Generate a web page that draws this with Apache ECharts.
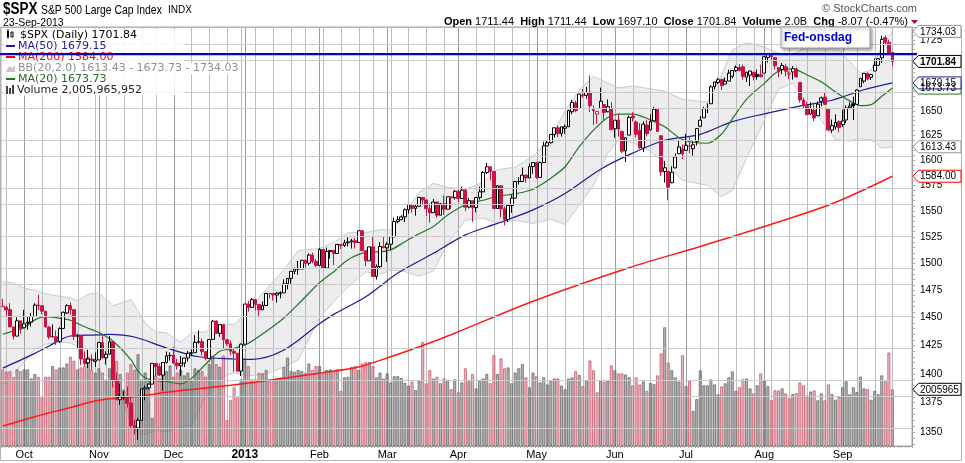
<!DOCTYPE html>
<html><head><meta charset="utf-8">
<script src="https://cdn.jsdelivr.net/npm/echarts@6/dist/echarts.min.js"></script>
<style>html,body{margin:0;padding:0;background:#fff;}#c{width:965px;height:463px;}</style>
</head><body><div id="c"></div>
<script>
// ---------- DATA ----------
const HOLIDAYS = ['2012-10-29','2012-10-30','2012-11-22','2012-12-25','2013-01-01','2013-01-21','2013-02-18','2013-03-29','2013-05-27','2013-07-04','2013-09-02'];
const FIRST_DAY = '2012-09-21', LAST_DAY = '2013-09-23';
const PREV_CLOSE_0 = 1460.26;

const OPEN = [
1460.34,1459.50,1457.38,1441.60,1433.36,1447.13,
1440.90,1444.99,1446.05,1451.08,1461.40,1460.93,1455.90,1441.48,1432.82,1432.84,1428.75,1440.31,1454.22,1460.94,1457.34,1433.21,1433.74,1413.20,1409.74,1412.97,1410.99,
1412.20,1427.59,1414.02,1417.26,1428.27,1394.53,1377.55,1379.86,1380.03,1374.64,1355.41,1353.36,1359.88,1386.82,1387.79,1391.03,1409.15,1406.29,1398.77,1409.96,1415.95,
1416.34,1409.46,1407.05,1409.43,1413.95,1418.07,1418.55,1427.84,1428.48,1419.45,1413.54,1430.47,1446.79,1435.81,1443.67,1430.15,1426.66,1419.83,1418.10,1402.43,
1426.19,1462.42,1459.37,1466.47,1461.89,1457.15,1461.02,1472.12,1472.05,1470.67,1472.33,1472.63,1480.95,1485.98,1492.56,1494.81,1494.82,1502.96,1500.18,1507.84,1501.96,
1498.11,1513.17,1495.71,1511.29,1512.12,1509.39,1517.93,1517.01,1519.43,1520.33,1521.38,1519.79,1530.94,1511.95,1502.42,1515.60,1487.85,1496.94,1515.99,
1514.68,1518.20,1525.20,1539.79,1541.46,1544.26,1551.15,1556.22,1552.48,1554.52,1563.21,1560.70,1552.10,1548.34,1558.71,1545.90,1556.89,1551.69,1563.75,1562.86,
1569.18,1562.17,1570.25,1553.69,1559.98,1553.26,1563.11,1568.61,1587.73,1593.30,1588.84,1552.36,1574.57,1552.03,1541.61,1555.25,1562.50,1578.78,1578.78,1585.16,1582.34,1593.58,
1597.55,1582.77,1597.60,1614.40,1617.55,1625.95,1632.69,1626.69,1632.10,1633.75,1649.13,1658.07,1652.45,1665.71,1666.20,1669.39,1651.62,1646.67,1652.63,1656.57,1649.14,1652.13,
1631.71,1640.73,1629.05,1609.29,1625.27,1644.67,1638.64,1629.94,1612.15,1635.52,1630.64,1639.77,1651.83,1624.62,1588.62,1588.77,1577.52,1592.27,1606.44,1611.12,
1609.78,1614.29,1611.48,1618.65,1634.20,1642.89,1652.50,1657.41,1675.26,1679.59,1682.70,1677.91,1681.05,1686.15,1692.09,1695.53,1696.06,1685.21,1687.31,1690.32,1687.92,1687.76,
1689.42,1706.10,1708.01,1705.79,1695.30,1693.35,1696.10,1688.37,1690.65,1693.88,1679.61,1661.22,1655.25,1646.81,1650.66,1645.03,1659.92,1664.29,1652.54,1630.25,1633.50,1638.89,
1635.95,1640.72,1653.28,1657.44,1656.85,1675.11,1681.04,1689.21,1685.04,1691.70,1697.73,1705.74,1727.34,1722.44,1711.44];

const HIGH = [
1467.07,1460.72,1463.24,1441.60,1450.20,1447.13,
1457.14,1451.52,1454.30,1463.14,1470.96,1460.93,1455.90,1442.52,1443.90,1438.43,1441.31,1455.51,1462.20,1464.02,1457.34,1435.46,1433.74,1420.04,1421.12,1417.09,1418.76,
1428.35,1434.27,1419.90,1433.38,1428.27,1401.23,1391.39,1384.87,1388.81,1380.13,1360.62,1362.03,1386.89,1389.77,1391.25,1409.16,1409.15,1409.01,1410.31,1419.70,1418.86,
1423.73,1413.14,1415.56,1413.95,1420.34,1421.64,1434.27,1438.59,1431.36,1419.45,1430.67,1448.00,1447.75,1443.70,1443.67,1430.15,1429.42,1422.80,1418.10,1426.74,
1462.43,1465.47,1467.94,1466.47,1461.89,1464.73,1472.30,1472.75,1472.05,1473.31,1473.96,1485.16,1485.98,1492.56,1496.13,1502.27,1503.26,1503.23,1509.35,1509.94,1504.19,
1514.41,1513.17,1514.96,1512.53,1512.90,1518.31,1518.31,1522.29,1524.69,1523.14,1524.24,1530.94,1530.94,1511.95,1515.64,1525.84,1498.99,1520.08,1525.34,
1519.99,1525.27,1543.47,1545.25,1545.78,1552.48,1556.27,1556.77,1556.39,1563.32,1563.62,1560.70,1557.25,1561.56,1558.71,1557.74,1564.91,1563.95,1564.07,1570.28,
1570.57,1573.66,1571.47,1562.60,1559.98,1563.07,1573.89,1589.07,1597.35,1593.30,1588.84,1575.35,1574.57,1554.38,1555.89,1565.55,1579.58,1583.00,1592.64,1585.78,1596.65,1597.57,
1597.55,1598.60,1618.46,1619.77,1626.03,1632.78,1635.01,1633.70,1636.00,1651.10,1661.49,1660.51,1667.47,1672.84,1674.93,1687.18,1655.50,1649.78,1674.21,1656.57,1661.91,1658.99,
1640.42,1646.53,1629.31,1622.56,1645.22,1648.69,1640.13,1637.71,1639.25,1640.80,1646.50,1654.19,1652.45,1624.62,1599.19,1588.77,1593.79,1606.83,1620.07,1615.94,
1626.61,1624.26,1618.97,1632.07,1644.68,1654.18,1657.92,1676.63,1680.19,1684.51,1683.73,1684.75,1693.12,1692.09,1697.61,1698.78,1698.38,1690.94,1691.85,1690.92,1693.19,1698.43,
1707.85,1709.67,1709.24,1705.79,1695.30,1700.18,1699.42,1691.49,1696.81,1695.52,1679.61,1663.60,1659.18,1658.92,1656.99,1659.55,1664.85,1669.51,1652.54,1641.18,1646.41,1640.08,
1651.35,1655.72,1659.17,1664.83,1672.40,1684.09,1689.13,1689.97,1688.73,1704.95,1705.52,1729.44,1729.86,1725.23,1711.44];

const LOW = [
1459.51,1452.06,1441.59,1430.53,1433.32,1435.60,
1440.90,1439.01,1441.99,1451.08,1456.89,1453.10,1441.18,1430.64,1432.82,1425.53,1427.24,1440.31,1453.35,1452.63,1429.85,1422.06,1407.56,1407.10,1405.14,1403.28,1405.95,
1412.20,1412.91,1408.13,1417.26,1388.14,1377.51,1373.03,1377.19,1370.78,1352.50,1348.05,1343.35,1359.88,1377.04,1386.39,1391.03,1397.68,1398.03,1385.43,1409.04,1411.63,
1408.46,1403.65,1398.23,1405.93,1410.90,1415.64,1418.55,1426.76,1416.00,1411.88,1413.54,1430.47,1435.80,1432.82,1422.58,1424.66,1416.43,1401.80,1401.58,1398.11,
1426.19,1455.53,1458.99,1456.62,1451.64,1457.15,1461.02,1467.58,1465.69,1463.76,1467.60,1472.63,1475.81,1481.16,1489.90,1489.46,1494.82,1496.33,1498.09,1500.11,1496.76,
1498.11,1495.02,1495.71,1504.71,1498.49,1509.39,1513.61,1515.61,1515.93,1514.02,1514.14,1519.79,1511.41,1497.29,1502.42,1487.85,1485.01,1494.88,1514.46,
1501.48,1512.29,1525.20,1538.11,1541.46,1539.29,1547.36,1548.24,1545.55,1554.52,1555.74,1545.13,1538.57,1548.34,1543.55,1545.90,1546.22,1551.69,1551.90,1561.08,
1558.47,1562.17,1549.80,1552.52,1539.50,1548.63,1560.92,1568.61,1586.17,1579.97,1552.28,1552.36,1543.69,1536.03,1539.40,1548.19,1562.50,1575.80,1578.78,1577.56,1582.34,1586.50,
1581.28,1582.77,1597.60,1614.21,1616.64,1622.70,1623.09,1623.71,1626.74,1633.75,1646.68,1648.60,1652.45,1663.52,1662.67,1648.86,1635.53,1636.88,1652.63,1640.05,1648.61,1630.74,
1622.72,1623.62,1607.09,1598.23,1625.27,1639.26,1622.92,1610.92,1608.07,1623.96,1630.34,1639.77,1628.91,1584.32,1577.70,1560.33,1577.09,1592.27,1606.44,1601.06,
1609.78,1606.77,1604.57,1614.71,1634.20,1642.89,1647.66,1657.41,1672.33,1677.89,1671.84,1677.91,1681.05,1684.08,1690.67,1691.13,1682.57,1680.07,1676.03,1681.86,1682.42,1684.94,
1689.42,1700.68,1703.55,1693.29,1684.91,1688.38,1686.02,1683.35,1682.62,1684.83,1658.59,1652.61,1645.84,1646.08,1639.43,1645.03,1654.81,1656.02,1629.05,1627.47,1630.88,1628.05,
1633.41,1637.41,1653.07,1640.62,1656.85,1675.11,1678.70,1681.96,1682.22,1691.70,1697.73,1700.35,1720.20,1708.89,1697.10];

const CLOSE = [
1460.15,1456.89,1441.59,1433.32,1447.15,1440.67,
1444.49,1445.75,1450.99,1461.40,1460.93,1455.88,1441.48,1432.56,1432.84,1428.59,1440.13,1454.92,1460.91,1457.34,1433.19,1433.82,1413.11,1408.75,1412.97,1411.94,1412.16,
1427.59,1414.20,1417.26,1428.39,1394.53,1377.51,1379.85,1380.03,1374.53,1355.49,1353.33,1359.88,1386.89,1387.81,1391.03,1409.15,1406.29,1398.94,1409.93,1415.95,1416.18,
1409.46,1407.05,1409.28,1413.94,1418.07,1418.55,1427.84,1428.48,1419.45,1413.58,1430.36,1446.79,1435.81,1443.69,1430.15,1426.66,1419.83,1418.10,1402.43,1426.19,
1462.42,1459.37,1466.47,1461.89,1457.15,1461.02,1472.12,1472.05,1470.68,1472.34,1472.63,1480.94,1485.98,1492.56,1494.81,1494.82,1502.96,1500.18,1507.84,1501.96,1498.11,
1513.17,1495.71,1511.29,1512.12,1509.39,1517.93,1517.01,1519.43,1520.33,1521.38,1519.79,1530.94,1511.95,1502.42,1515.60,1487.85,1496.94,1515.99,1514.68,
1518.20,1525.20,1539.79,1541.46,1544.26,1551.18,1556.22,1552.48,1554.52,1563.23,1560.70,1552.10,1548.34,1558.71,1545.80,1556.89,1551.69,1563.77,1562.85,1569.19,
1562.17,1570.25,1553.69,1559.98,1553.28,1563.07,1568.61,1587.73,1593.37,1588.85,1552.36,1574.57,1552.01,1541.61,1555.25,1562.50,1578.78,1578.79,1585.16,1582.24,1593.61,1597.57,
1582.70,1597.59,1614.42,1617.50,1625.96,1632.69,1626.67,1633.70,1633.77,1650.34,1658.78,1650.47,1667.47,1666.29,1669.16,1655.35,1650.51,1649.60,1660.06,1648.36,1654.41,1630.74,
1640.42,1631.38,1608.90,1622.56,1643.38,1642.81,1626.13,1612.52,1636.36,1626.73,1639.04,1651.81,1628.93,1588.19,1592.43,1573.09,1588.03,1603.26,1613.20,1606.28,
1614.96,1614.08,1615.41,1631.89,1640.46,1652.32,1652.62,1675.02,1680.19,1682.50,1676.26,1680.91,1689.37,1692.09,1695.53,1692.39,1685.94,1690.25,1691.65,1685.33,1685.96,1685.73,
1706.87,1709.67,1707.14,1697.37,1690.91,1697.48,1691.42,1689.47,1694.16,1685.39,1661.32,1655.83,1646.06,1652.35,1642.80,1656.96,1663.50,1656.78,1630.48,1634.96,1638.17,1632.97,
1639.77,1653.08,1655.08,1655.17,1671.71,1683.99,1689.13,1683.42,1687.99,1697.60,1704.76,1725.52,1722.34,1709.91,1701.84];

// volume, billions of shares
const VOLUME = [
2.71,2.63,2.65,2.45,2.71,2.65,
2.71,2.71,2.39,2.55,2.45,1.72,2.45,2.45,2.83,2.71,2.78,2.78,2.92,3.16,3.02,2.71,2.78,2.83,3.16,2.71,2.60,
2.75,2.60,2.35,2.75,3.30,3.00,2.55,2.00,2.60,2.90,2.70,3.25,2.35,2.60,2.30,1.00,2.50,2.40,2.60,2.65,2.85,
2.45,2.60,2.70,2.50,2.60,2.30,2.75,2.70,2.65,2.45,2.90,3.20,2.90,2.80,3.20,0.92,1.63,2.08,1.72,2.36,
3.10,2.83,2.36,2.36,2.59,2.57,2.69,2.36,2.36,2.41,2.43,2.80,3.13,2.66,2.63,2.69,2.65,2.59,2.92,2.69,2.83,
2.83,2.59,2.69,2.71,2.66,2.71,1.95,2.43,2.45,2.80,2.83,2.69,2.92,2.97,2.97,2.83,2.43,2.60,2.39,
2.57,2.25,2.47,2.47,2.41,2.24,2.14,2.28,1.98,2.30,3.68,2.22,2.69,2.39,2.45,2.22,2.39,2.34,2.01,2.36,
1.90,2.25,2.75,2.34,2.55,2.04,2.30,2.39,2.55,2.22,3.22,2.55,3.10,2.75,2.78,2.22,2.60,2.75,2.90,2.43,2.08,2.60,
2.47,2.25,2.43,2.18,2.32,2.39,2.39,2.14,2.01,2.39,2.43,2.65,2.51,2.12,2.32,3.03,2.68,1.90,2.32,2.28,2.32,2.85,
2.68,2.57,2.57,2.53,2.43,2.15,2.43,2.18,2.29,1.95,2.23,2.19,2.50,3.28,4.20,2.95,2.68,2.43,2.28,3.21,
2.12,2.32,1.24,1.66,2.68,2.15,2.15,2.36,2.18,1.83,2.11,2.22,2.43,2.64,1.95,2.08,2.36,2.39,2.04,1.86,2.15,2.57,
2.32,2.12,1.62,1.97,1.97,2.04,1.86,1.69,1.84,1.87,2.25,2.15,1.79,1.93,1.97,1.62,1.86,1.62,2.18,1.84,1.64,1.75,
2.08,2.29,1.83,2.08,1.91,2.46,2.04,2.01,1.64,1.95,1.83,2.50,2.29,3.31,2.006];

// overlay lines, read at sample days (index into trading days)
const MA200_IDX = [0,9,18,27,37,46,55,64,72,81,90,100,109,118,127,149,176,196,214,233,250];
const MA200_VAL = [1355,1363,1370,1377,1380,1384,1387,1390,1393,1397,1401,1406,1415,1425,1436,1465,1496,1516,1535,1557,1584.00];

const MA50_IDX = [0,9,13,19,27,30,37,46,55,65,70,79,89,93,102,111,121,130,139,149,158,168,177,186,196,205,214,224,233,242,250];
const MA50_VAL = [1405,1418,1424.6,1433.5,1434.4,1435,1432.6,1422.8,1415,1413,1412.7,1421,1444.5,1453,1469,1491,1509.5,1527,1538,1551,1567,1591,1607,1620,1626,1639,1647,1655,1661,1672,1679.15];

const BB_IDX = [0,3,6,9,12,15,19,21,24,27,31,36,38,40,43,46,50,53,57,61,65,69,74,79,83,89,93,97,102,106,109,113,117,121,125,130,135,139,144,149,154,158,162,166,170,173,177,182,186,191,198,202,205,209,214,218,222,226,230,234,238,241,244,247,250];
const MA20_VAL = [1435,1438,1441,1448,1451,1450,1447.7,1444.7,1440.5,1436.6,1428.8,1412.4,1402.3,1396.5,1394,1393.4,1391.2,1396,1408.4,1419.9,1422.5,1426.9,1437.6,1449.7,1462.3,1482,1492.2,1503.5,1510.4,1511,1512.7,1520.5,1528,1535,1546,1556,1560.4,1564.3,1566.7,1571.2,1582.1,1593.4,1613.6,1630.3,1643.2,1646.8,1646.8,1640.8,1633.7,1620.8,1617,1626.4,1641.8,1662,1678.7,1691.6,1694,1687.5,1680.3,1669.7,1660.4,1655.5,1656.5,1665.2,1673.73];
const BB_UP = [1483,1482,1477,1475,1472,1470,1468,1465.3,1471.5,1472.6,1460.8,1466.4,1456.3,1445,1437,1436.4,1428,1436,1437.4,1444,1443.9,1456,1476,1494,1512,1514,1519.8,1529,1529,1532,1531.7,1548.5,1568,1577,1573,1571,1578,1590.5,1593,1604,1622,1650,1671.6,1686,1679,1674,1675.8,1673,1670.7,1662,1659,1688,1714,1722,1717,1710.8,1709,1718,1720,1718.7,1701.4,1689.5,1692.5,1718,1734.03];
const BB_LO = [1390,1400,1410,1422,1426,1428,1427.3,1424.1,1409.5,1400.6,1396.8,1358.4,1348.3,1348,1351,1350.4,1354,1356,1379.4,1396,1401,1398,1400,1406,1412,1450,1464.6,1478,1492,1490,1493.7,1492.5,1488,1493,1519,1541,1543,1538,1541,1538,1542,1537,1555.6,1575,1607,1620,1617.8,1609,1596.7,1580,1575,1564,1570,1602,1640.5,1672.4,1679,1657,1640,1620.7,1619.4,1621.5,1620.5,1612,1613.43];

const PRICE_LABELS = [1350,1375,1400,1425,1450,1475,1500,1525,1550,1575,1600,1625,1650,1675,1700,1725];
const ANNOT_LEVEL = 1709.7;   // drawn horizontal line
const MONTHS = ['Jan','Feb','Mar','Apr','May','Jun','Jul','Aug','Sep','Oct','Nov','Dec'];

// ---------- build ----------
function tradingDays(){
  const out=[]; let t=Date.parse(FIRST_DAY+'T00:00:00Z'); const end=Date.parse(LAST_DAY+'T00:00:00Z');
  while(t<=end){ const d=new Date(t); const wd=d.getUTCDay(); const s=d.toISOString().slice(0,10);
    if(wd!==0&&wd!==6&&HOLIDAYS.indexOf(s)<0) out.push(s); t+=86400000; }
  return out;
}
const dates = tradingDays();
const cats = dates.concat(['_a','_b','_c','_d','_e']);
const N = cats.length;
const L = Math.log;
const dow = s => new Date(s+'T00:00:00Z').getUTCDay();
const monthStart = []; const weekStart = [];
for(let i=1;i<dates.length;i++){
  if(dates[i].slice(0,7)!==dates[i-1].slice(0,7)) monthStart.push(i);
  else if(dow(dates[i])<=dow(dates[i-1])) weekStart.push(i);
}
const isMonthStart = i => monthStart.indexOf(i)>=0;
const RED='#cc1444', BLK='#000000';
const candleData = CLOSE.map((c,i)=>{
  const o=OPEN[i]; const prev = i>0?CLOSE[i-1]:PREV_CLOSE_0;
  const col = c<prev?RED:BLK; const fill = c>=o?'#ffffff':col;
  return {value:[L(o),L(c),L(LOW[i]),L(HIGH[i])],
    itemStyle:{color:fill,color0:fill,borderColor:col,borderColor0:col,borderColorDoji:col,borderWidth:1}};
});
const volData = VOLUME.map((v,i)=>{
  const prev = i>0?CLOSE[i-1]:PREV_CLOSE_0; const red = CLOSE[i]<prev;
  return {value:v, itemStyle:{color: red?'rgba(215,120,135,0.5)':'rgba(110,110,110,0.5)',
    borderColor: red?'rgba(200,80,100,0.75)':'rgba(100,100,100,0.75)', borderWidth:1}};
});
function sparse(idx, vals){ const a=new Array(N).fill(null); idx.forEach((i,k)=>{a[i]=L(vals[k]);}); return a; }

const hLines = PRICE_LABELS.map(v=>({yAxis:L(v), lineStyle:{color:'#cccccc',width:1,type:'solid'}}));
const tickVals=[]; for(let v=1340; v<=1735; v+=5) tickVals.push(L(v));
const YMIN = L(1338.24), YMAX = L(1738.85);

const chart = echarts.init(document.getElementById('c'), null, {renderer:'canvas'});
chart.setOption({
  animation:false,
  textStyle:{fontFamily:'Liberation Sans'},
  grid:{left:1,right:53,top:27,bottom:17,show:true,borderColor:'#a8a8a8',borderWidth:1},
  xAxis:{type:'category',data:cats,boundaryGap:true,
    axisLine:{show:true,lineStyle:{color:'#999'}},
    axisTick:{show:true,interval:0,length:2,lineStyle:{color:'#b0b0b0'}},
    splitLine:{show:false},
    axisLabel:{interval:(i)=>isMonthStart(i), margin:3, fontSize:11, color:'#000',
      formatter:(val,i)=>{ const d=dates[i]; if(!d) return ''; const m=+d.slice(5,7);
        return m===1?'{y|'+d.slice(0,4)+'}':MONTHS[m-1]; },
      rich:{y:{fontWeight:'bold',fontSize:12,color:'#000',fontFamily:'Liberation Sans'}}}},
  yAxis:[
    {type:'value',position:'right',min:YMIN,max:YMAX,scale:true,
      axisLine:{show:true,lineStyle:{color:'#999'}},
      axisTick:{show:true,customValues:tickVals,length:3,lineStyle:{color:'#aaa'}},
      splitLine:{show:false},
      axisLabel:{customValues:PRICE_LABELS.map(L),margin:8,fontSize:10,color:'#000',
        formatter:v=>String(Math.round(Math.exp(v)))}},
    {type:'value',min:0,max:14.82,show:false,splitLine:{show:false}}
  ],
  series:[
    {type:'line',data:[],yAxisIndex:0,z:0,silent:true,
      markLine:{silent:true,symbol:['none','none'],label:{show:false},animation:false,data:hLines}},
    {type:'custom',yAxisIndex:0,z:1,silent:true,data:[[0,L(1500)]],
      renderItem:(params,api)=>{
        const up=BB_IDX.map((i,k)=>api.coord([i,L(BB_UP[k])]));
        const lo=BB_IDX.map((i,k)=>api.coord([i,L(BB_LO[k])]));
        return {type:'group',children:[
          {type:'polygon',shape:{points:up.concat(lo.slice().reverse())},style:{fill:'rgba(190,192,196,0.28)',stroke:null}},
          {type:'polyline',shape:{points:up},style:{stroke:'#c5cad1',lineWidth:1,fill:null}},
          {type:'polyline',shape:{points:lo},style:{stroke:'#c5cad1',lineWidth:1,fill:null}}]};
      }},
    {type:'bar',yAxisIndex:1,data:volData,barWidth:'88%',z:2,silent:true},
    {type:'line',yAxisIndex:0,data:sparse(MA200_IDX,MA200_VAL),connectNulls:true,symbol:'none',smooth:0.3,z:3,silent:true,lineStyle:{color:'#ff1a1a',width:1.5}},
    {type:'line',yAxisIndex:0,data:sparse(MA50_IDX,MA50_VAL),connectNulls:true,symbol:'none',smooth:0.3,z:3,silent:true,lineStyle:{color:'#1c1c9c',width:1.2}},
    {type:'line',yAxisIndex:0,data:sparse(BB_IDX,MA20_VAL),connectNulls:true,symbol:'none',smooth:0.3,z:3,silent:true,lineStyle:{color:'#1f7a1f',width:1.2}},
    {type:'candlestick',yAxisIndex:0,data:candleData,barWidth:3.3,z:4,silent:true}
  ]
});

// ---------- annotations (positions from the chart's own scales) ----------
const py = v => chart.convertToPixel({yAxisIndex:0}, L(v));
const vy = v => chart.convertToPixel({yAxisIndex:1}, v);
const px = i => chart.convertToPixel({xAxisIndex:0}, cats[i]);
const G = [];
// vertical grid lines: weekly (light) and first day of month (darker)
const gTop = 27, gBot = 446;
const vl = [];
weekStart.forEach(i=>vl.push([i,'#bcbcbc']));
monthStart.forEach(i=>vl.push([i,'#9a9a9a']));
vl.forEach(p=>{ const x=Math.round(px(p[0]))+0.5;
  G.push({type:'line',z:0,silent:true,shape:{x1:x,y1:gTop,x2:x,y2:gBot},style:{stroke:p[1],lineWidth:1}}); });

function txt(x,y,text,font,fill,align,extra,z,sx){
  return {type:'text',z:z||62,x:x,y:y,scaleX:sx||1,
    style:Object.assign({text,x:0,y:0,font,fill,textAlign:align||'left',textVerticalAlign:'middle',verticalAlign:'middle'},extra||{})};
}
function tag(y,text,stroke,bold){
  G.push({type:'polygon',z:70,shape:{points:[[913,y],[918.5,y-6],[961,y-6],[961,y+6],[918.5,y+6]]},style:{fill:'#fff',stroke,lineWidth:1}});
  G.push(txt(920,y+0.5,text,(bold?'bold ':'')+'10px "Liberation Sans"','#000','left',null,71));
}
// header
G.push(txt(3,9.5,'$SPX','bold 16px "Liberation Sans"','#000','left',null,62,0.84));
G.push(txt(41,10,'S&P 500 Large Cap Index','13px "Liberation Sans"','#000','left',null,62,0.8));
G.push(txt(168,10,'INDX','10px "Liberation Sans"','#000'));
G.push(txt(3,23,'23-Sep-2013','10.5px "Liberation Sans"','#000'));
G.push(txt(917,9,'\u00a9 StockCharts.com','11px "Liberation Sans"','#555','right'));
G.push({type:'text',z:60,style:{x:908,y:22,textAlign:'right',textVerticalAlign:'middle',verticalAlign:'middle',
  text:'{b|Open} 1711.44  {b|High} 1711.44  {b|Low} 1697.10  {b|Close} 1701.84  {b|Volume} 2.0B  {b|Chg} -8.07 (-0.47%)',
  fontSize:11,fontFamily:'Liberation Sans',fill:'#000',rich:{b:{fontWeight:'bold',fontSize:11,fontFamily:'Liberation Sans',fill:'#000'}}}});
G.push({type:'polygon',z:60,shape:{points:[[911,20],[918,20],[914.5,24]]},style:{fill:'#a01020'}});
// legend
const LF='11px "DejaVu Sans"', bg={backgroundColor:'#fff',padding:[0,1,0,1]};
G.push({type:'rect',z:59,shape:{x:4,y:29,width:180,height:66},style:{fill:'rgba(255,255,255,0.85)'}});
G.push({type:'rect',z:61,shape:{x:7,y:31,width:2,height:6},style:{fill:'#000'}});
G.push({type:'rect',z:61,shape:{x:11,y:32,width:2,height:5},style:{fill:'#fff',stroke:'#000',lineWidth:1}});
G.push({type:'line',z:61,shape:{x1:8,y1:29,x2:8,y2:39},style:{stroke:'#000',lineWidth:1}});
G.push(txt(19,35.5,'$SPX (Daily) 1701.84',LF,'#000','left',bg));
G.push({type:'line',z:61,shape:{x1:6,y1:46,x2:15,y2:46},style:{stroke:'#1c1c9c',lineWidth:2}});
G.push(txt(17,46.5,'MA(50) 1679.15',LF,'#1c1c9c','left',bg));
G.push({type:'line',z:61,shape:{x1:6,y1:57,x2:15,y2:57},style:{stroke:'#ff0000',lineWidth:2}});
G.push(txt(17,57.5,'MA(200) 1584.00',LF,'#ff0000','left',bg));
G.push({type:'polygon',z:61,shape:{points:[[6,72],[9,66],[12,68],[15,65],[15,72]]},style:{fill:'#c8c8c8'}});
G.push(txt(17,68.5,'BB(20,2.0) 1613.43 - 1673.73 - 1734.03',LF,'#8c9099','left',bg));
G.push({type:'line',z:61,shape:{x1:6,y1:79,x2:15,y2:79},style:{stroke:'#1f7a1f',lineWidth:2}});
G.push(txt(17,79.5,'MA(20) 1673.73',LF,'#1f6e1f','left',bg));
[[6,86],[9,88],[12,85]].forEach(p=>G.push({type:'rect',z:61,shape:{x:p[0],y:p[1],width:2,height:94-p[1]},style:{fill:'#444'}}));
G.push(txt(16,90,'Volume 2,005,965,952',LF,'#222','left',bg));
// drawn horizontal line
const ay = py(ANNOT_LEVEL);
G.push({type:'line',z:65,shape:{x1:0,y1:ay,x2:917,y2:ay},style:{stroke:'#0000cc',lineWidth:2.2}});
// Fed-onsdag note
G.push({type:'rect',z:66,shape:{x:781,y:27,width:89,height:21},style:{fill:'#fff',stroke:'#9a9a9a',lineWidth:1,shadowBlur:3,shadowOffsetX:2,shadowOffsetY:2,shadowColor:'rgba(0,0,0,0.35)'}});
G.push(txt(784,38,'Fed-onsdag','bold 12px "Liberation Sans"','#0000cc','left',null,67));
// price tags
tag(py(1734.03),'1734.03','#8a98a8',false);
tag(py(1701.84),'1701.84','#000',true);
tag(py(1673.73),'1673.73','#1f7a1f',false);
tag(py(1679.15),'1679.15','#1c1c9c',false);
tag(py(1613.43),'1613.43','#8a98a8',false);
tag(py(1584.00),'1584.00','#ff0000',false);
tag(vy(2.006),'2005965','#000',false);
// outer frame
G.push({type:'rect',z:5,shape:{x:0.5,y:27.5,width:961,height:433},style:{fill:null,stroke:'#b4b4b4',lineWidth:1}});
chart.setOption({graphic:G});
</script></body></html>
